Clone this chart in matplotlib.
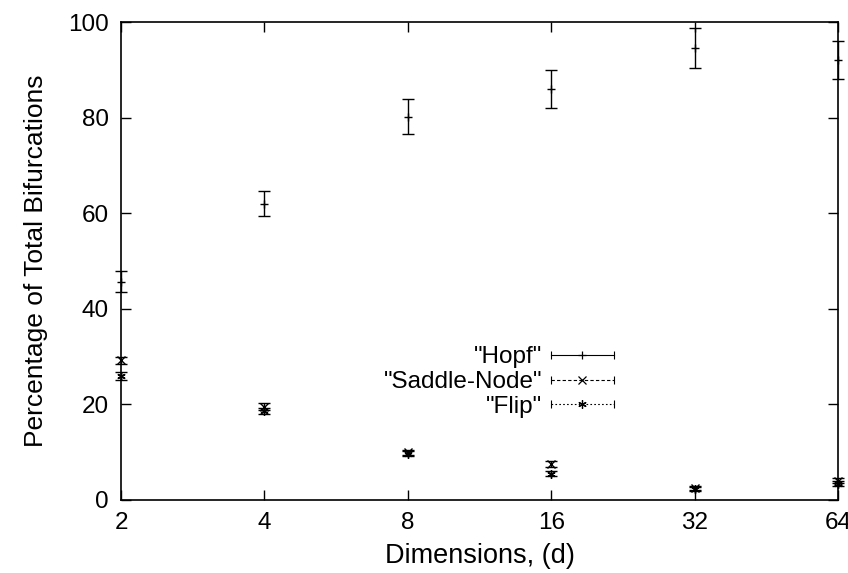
import matplotlib
matplotlib.use("Agg")
import matplotlib.pyplot as plt
from matplotlib.lines import Line2D
from matplotlib.legend_handler import HandlerLine2D

dims = [2, 4, 8, 16, 32, 64]
hopf = [45.7, 62.0, 80.2, 86.0, 94.6, 92.1]
hopf_err = [2.2, 2.6, 3.6, 3.9, 4.2, 4.0]
saddle = [29.2, 19.5, 10.0, 7.6, 2.5, 4.0]
saddle_err = [0.8, 0.7, 0.5, 0.6, 0.4, 0.5]
flip = [26.0, 18.6, 9.7, 5.5, 2.3, 3.4]
flip_err = [0.8, 0.7, 0.5, 0.5, 0.4, 0.5]
yticks = [0, 20, 40, 60, 80, 100]

plt.rcParams["font.family"] = ["Liberation Sans", "DejaVu Sans"]


class CapHandler(HandlerLine2D):
    # gnuplot style legend sample: line with end caps and a marker in the middle
    def create_artists(self, legend, orig_handle, xdescent, ydescent,
                       width, height, fontsize, trans):
        arts = super().create_artists(legend, orig_handle, xdescent, ydescent,
                                      width, height, fontsize, trans)
        y = height / 2 - ydescent
        caps = Line2D([-xdescent, width - xdescent], [y, y], linestyle="none",
                      marker="|", markersize=6, color="black", mew=0.8)
        caps.set_transform(trans)
        return arts + [caps]


fig = plt.figure(figsize=(8.48, 5.73), dpi=100)
ax = fig.add_axes([0.1427, 0.1274, 0.8455, 0.8342])

styles = [
    (hopf, hopf_err, "+", "-", '"Hopf"'),
    (saddle, saddle_err, "x", (0, (3, 2)), '"Saddle-Node"'),
    (flip, flip_err, (6, 2, 0), (0, (1.5, 2)), '"Flip"'),
]
handles = []
for vals, errs, mk, ls, lab in styles:
    ax.errorbar(dims, vals, yerr=errs, fmt="none", ecolor="black",
                elinewidth=1.0, capsize=4, capthick=1.0, clip_on=False)
    ax.plot(dims, vals, linestyle="none", marker=mk, color="black",
            markersize=6, mew=1.0, clip_on=False)
    handles.append(Line2D([], [], color="black", linestyle=ls, linewidth=0.8,
                          marker=mk, markersize=6, mew=0.9, label=lab))

ax.set_xscale("log", base=2)
ax.set_xlim(2, 64)
ax.set_ylim(0, 100)
ax.set_xticks(dims)
ax.set_xticklabels([str(d) for d in dims])
ax.minorticks_off()
ax.set_yticks(yticks)
ax.tick_params(direction="in", length=7, width=1.0, top=True, right=True,
               labelsize=17.5, pad=9)
for sp in ax.spines.values():
    sp.set_linewidth(1.2)

ax.set_xlabel("Dimensions, (d)", fontsize=19.5, labelpad=6)
ax.set_ylabel("Percentage of Total Bifurcations", fontsize=19, labelpad=14)

ax.legend(handles=handles, loc="upper right", bbox_to_anchor=(0.6876, 0.322),
          frameon=False, markerfirst=False, fontsize=17.5, handlelength=2.6,
          labelspacing=0.12, handletextpad=0.36, borderpad=0, borderaxespad=0,
          handler_map={Line2D: CapHandler()})

fig.savefig("out.png", dpi=100)
